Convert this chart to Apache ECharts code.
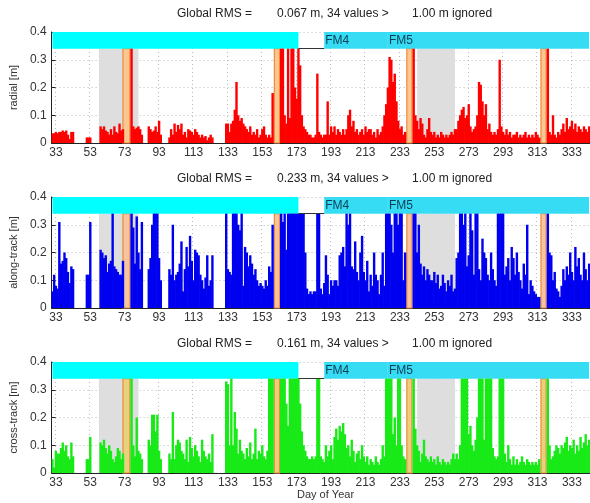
<!DOCTYPE html>
<html>
<head>
<meta charset="utf-8">
<script src="https://cdn.jsdelivr.net/npm/echarts@6/dist/echarts.min.js"></script>
<style>
  html, body { margin: 0; padding: 0; background: #fff; }
  #chart { width: 590px; height: 503px; }
</style>
</head>
<body>
<div id="chart"></div>
<script>
// day of year categories 31..343
const days = [];
for (let d = 31; d <= 343; d++) days.push(String(d));
const xTicks = ['33', '53', '73', '93', '113', '133', '153', '173', '193', '213', '233', '253', '273', '293', '313', '333'];
const yTicks = [0, 0.1, 0.2, 0.3, 0.4];

// values in m, one per day starting at day 31 (null = no data)
const radial = [
  .035,.035,.04,.035,.04,.04,.045,.04,.045,.03,
  .015,.04,.04,null,null,null,null,null,null,null,
  .02,.02,.02,null,null,null,null,null,.06,.05,
  .06,.045,.04,.03,.05,.03,.06,.04,.035,.07,
  .045,.05,null,null,null,null,.34,.06,.05,.055,
  .06,.05,.03,null,null,null,.06,.05,.04,.045,
  .06,.04,.08,.03,null,null,null,null,.02,.05,
  .03,.07,.04,.065,.05,.07,.03,.04,.02,.05,
  .045,.04,.03,.05,.04,.03,.02,.03,.02,.025,
  .01,.02,.03,.02,null,null,null,null,null,null,
  null,.07,.07,.04,.07,.08,.12,.22,.1,.08,
  .09,.07,.06,.05,.04,.06,.03,.04,.03,.05,
  .02,.03,.05,.06,.03,.02,.03,.02,.18,null,
  null,null,null,.34,.34,.1,.07,.34,.09,.34,
  .34,.2,.16,.34,.28,.1,.06,.05,.04,.03,
  .03,.02,.02,.03,.25,.04,.03,.02,.03,.03,
  .15,.03,.06,.04,.06,.03,.05,.04,.03,.05,
  .03,.05,.1,.12,.06,.08,.04,.05,.03,.04,
  .05,.03,.06,.04,.05,.05,.03,.04,.02,.05,
  .03,.04,.06,.1,.14,.2,.31,.3,.22,.25,
  .15,.08,.05,.06,.03,.04,null,null,null,null,
  .34,.1,.08,.05,.09,.07,.03,.02,.05,.09,
  .04,.03,.04,.02,.03,.02,.04,.03,.02,.03,
  .02,.03,.04,.03,.05,.05,.08,.1,.12,.13,
  .09,.1,.14,.06,.04,.05,.06,.1,.22,.21,
  .15,.1,.14,.05,.07,.04,.03,.04,.03,.05,
  .3,.06,.04,.03,.05,.03,.04,.02,.03,.03,
  .04,.02,.03,.02,.03,.04,.02,.03,.02,.03,
  .02,.04,.03,.02,null,null,null,null,.34,.04,
  .03,.1,.03,.02,.04,.03,.05,.07,.04,.09,
  .05,.06,.08,.05,.07,.04,.06,.05,.04,.06,
  .05,.04,.06
];

const alongTrack = [
  .06,.12,.08,.07,.31,.16,.17,.2,.18,.13,
  .09,.15,.14,null,null,null,null,null,null,null,
  .12,.12,.31,null,null,null,null,null,.21,.2,
  .18,.19,.13,.16,.17,.34,.15,.14,.13,.12,
  .12,.17,null,null,null,null,.34,.29,.16,.33,
  .2,.14,.31,null,null,null,.14,.18,.3,.34,
  .34,.34,.18,.1,null,null,null,null,.14,.12,
  .3,.1,.12,.13,.16,.24,.06,.14,.22,.15,
  .26,.17,.1,.21,.2,.19,.12,.1,.07,.11,
  .19,.08,.1,.19,null,null,null,null,null,null,
  null,.34,.14,.13,.12,.34,.34,.34,.3,.28,
  .34,.08,.22,.2,.15,.19,.16,.12,.14,.1,
  .08,.09,.08,.07,.1,.08,.15,.13,.3,null,
  null,null,null,.34,.31,.34,.21,.34,.34,.34,
  .34,.34,.34,.34,.34,.34,.34,.2,.07,.05,
  .06,.05,.06,.06,.34,.34,.07,.05,.09,.19,
  .12,.05,.1,.08,.1,.1,.08,.19,.2,.22,
  .15,.34,.3,.34,.15,.14,.24,.13,.1,.2,
  .26,.13,.1,.17,.06,.12,.08,.2,.12,.1,
  .05,.12,.2,.08,.34,.34,.34,.3,.2,.34,
  .34,.3,.34,.34,.1,.2,null,null,null,null,
  .34,.34,.2,.3,.16,.12,.15,.1,.14,.12,
  .1,.1,.13,.09,.12,.07,.08,.12,.09,.06,
  .1,.08,.12,.06,.07,.18,.2,.34,.34,.3,
  .34,.15,.19,.34,.28,.12,.34,.34,.14,.1,
  .25,.2,.18,.12,.1,.2,.14,.1,.08,.34,
  .34,.34,.34,.12,.15,.18,.1,.22,.18,.12,
  .2,.13,.1,.07,.16,.12,.3,.05,.1,.08,
  .06,.05,.04,.04,null,null,null,null,.34,.2,
  .19,.1,.13,.07,.06,.04,.08,.14,.1,.15,
  .12,.2,.13,.1,.22,.15,.18,.12,.1,.2,
  .14,.1,.16
];

const crossTrack = [
  .05,.02,.08,.07,.07,.09,.11,.08,.1,.06,
  .05,.11,.06,null,null,null,null,null,null,null,
  .05,.05,.13,null,null,null,null,null,.11,.1,
  .12,.09,.07,.1,.08,.05,.04,.06,.09,.08,
  .05,.07,null,null,null,null,.34,.1,.06,.2,
  .08,.07,.05,null,null,null,.12,.1,.21,.21,
  .15,.21,.08,.05,null,null,null,null,.07,.05,
  .22,.05,.1,.12,.11,.08,.07,.05,.12,.04,
  .13,.09,.06,.1,.08,.06,.04,.12,.08,.06,
  .05,.07,.04,.14,null,null,null,null,null,null,
  null,.33,.32,.1,.34,.1,.22,.16,.07,.12,
  .08,.07,.05,.09,.06,.11,.05,.07,.16,.05,
  .08,.07,.1,.06,.05,.08,.34,.34,.34,null,
  null,null,null,.34,.34,.34,.25,.17,.34,.34,
  .34,.34,.34,.34,.25,.15,.1,.08,.06,.05,
  .05,.06,.05,.06,.34,.34,.06,.05,.04,.1,
  .06,.08,.1,.05,.13,.16,.12,.17,.15,.18,
  .14,.09,.1,.06,.12,.08,.04,.07,.08,.05,
  .1,.06,.04,.06,.03,.05,.04,.03,.06,.04,
  .03,.05,.1,.06,.34,.34,.34,.34,.14,.2,
  .1,.34,.34,.1,.06,.05,null,null,null,null,
  .34,.16,.1,.08,.04,.07,.12,.06,.05,.04,
  .06,.04,.05,.03,.06,.04,.03,.05,.04,.03,
  .04,.03,.05,.07,.05,.07,.05,.1,.34,.34,
  .34,.34,.14,.17,.1,.08,.12,.2,.34,.34,
  .34,.12,.34,.34,.34,.34,.09,.06,.05,.06,
  .34,.34,.34,.07,.04,.1,.05,.03,.06,.03,
  .05,.03,.04,.06,.04,.03,.05,.04,.03,.04,
  .03,.04,.03,.05,null,null,null,null,.34,.1,
  .05,.06,.08,.1,.09,.07,.1,.09,.11,.13,
  .08,.1,.09,.12,.07,.1,.08,.13,.09,.11,
  .14,.1,.12
];

const rmsTexts = ['0.067 m, 34 values >', '0.233 m, 34 values >', '0.161 m, 34 values >'];
const panelNames = ['radial [m]', 'along-track [m]', 'cross-track [m]'];
const barColors = ['#ff0000', '#0000f0', '#18ea18'];
const bandFill = ['#f9c890', '#f6c4a0', '#e6d27a'];
const eclipses = [['58', '81'], ['243', '265']];
const manoeuvres = [['72', '76'], ['160', '163'], ['237', '240'], ['315', '318']];

const font = 'Liberation Sans, Arial, sans-serif';
const tops = [32, 197, 362];
const isTick = (i, v) => xTicks.indexOf(v) >= 0;

const grid = [], xAxis = [], yAxis = [], series = [], graphic = [];
const panels = [radial, alongTrack, crossTrack];

panels.forEach((vals, k) => {
  grid.push({ left: 48, top: tops[k], width: 542, height: 111 });
  xAxis.push({
    type: 'category', gridIndex: k, data: days,
    boundaryGap: true,
    axisLine: { lineStyle: { color: '#222', width: 1 } },
    axisTick: { inside: true, length: 3, alignWithLabel: true, interval: isTick, lineStyle: { color: '#222' } },
    axisLabel: { interval: isTick, color: '#333', fontSize: 12, fontFamily: font, margin: 4 },
    splitLine: { show: true, interval: isTick, lineStyle: { color: '#b8b8b8', type: [1, 3] } }
  });
  yAxis.push({
    type: 'value', gridIndex: k, min: 0, max: 0.4, interval: 0.1,
    name: panelNames[k], nameLocation: 'middle', nameGap: 29,
    nameTextStyle: { color: '#333', fontSize: 11, fontFamily: font },
    axisLine: { show: true, lineStyle: { color: '#222', width: 1 } },
    axisTick: { show: true, inside: true, length: 4, lineStyle: { color: '#222' } },
    axisLabel: { color: '#333', fontSize: 12, fontFamily: font, margin: 5,
      formatter: v => (v === 0 ? '0' : v.toFixed(1)) },
    splitLine: { show: true, lineStyle: { color: '#b8b8b8', type: [1, 3] } }
  });
  // shaded periods behind bars
  series.push({
    type: 'line', xAxisIndex: k, yAxisIndex: k, data: [], z: 1, silent: true,
    markArea: {
      silent: true,
      itemStyle: { color: '#dedede' },
      data: eclipses.map(e => [{ xAxis: e[0], yAxis: 0 }, { xAxis: e[1], yAxis: 0.34 }])
    }
  });
  series.push({
    type: 'bar', xAxisIndex: k, yAxisIndex: k, data: vals, z: 2,
    barWidth: 2.4, barGap: '-100%',
    itemStyle: { color: barColors[k] }, silent: true
  });
  // manoeuvre bands and satellite bar on top
  series.push({
    type: 'line', xAxisIndex: k, yAxisIndex: k, data: [], z: 3, silent: true,
    markArea: {
      silent: true,
      data: manoeuvres.map(m => [
        { xAxis: m[0], yAxis: 0, itemStyle: { color: bandFill[k], borderColor: '#f08a3c', borderWidth: 1.2 } },
        { xAxis: m[1], yAxis: 0.34 }
      ]).concat([
        [{ xAxis: '31', yAxis: 0.34, itemStyle: { color: '#00ffff' } }, { xAxis: '174', yAxis: 0.4 }],
        [{ xAxis: '189', yAxis: 0.34, itemStyle: { color: '#36dcf4' },
           label: { show: true, position: 'insideLeft', formatter: 'FM4', color: '#0b3f55', fontSize: 12, fontFamily: font, offset: [-4, 0] } },
         { xAxis: '226', yAxis: 0.4 }],
        [{ xAxis: '226', yAxis: 0.34, itemStyle: { color: '#36dcf4' },
           label: { show: true, position: 'insideLeft', formatter: 'FM5', color: '#0b3f55', fontSize: 12, fontFamily: font, offset: [-4, 0] } },
         { xAxis: '343', yAxis: 0.4 }]
      ])
    },
    markLine: {
      silent: true, symbol: 'none', label: { show: false },
      lineStyle: { color: '#333', width: 1, type: 'solid' },
      data: [[{ xAxis: '174', yAxis: 0.34 }, { xAxis: '189', yAxis: 0.34 }]]
    }
  });
  const ty = tops[k] - 17;
  graphic.push(
    { type: 'text', left: 177, top: ty - 7, style: { text: 'Global RMS =', fill: '#222', font: '12px ' + font } },
    { type: 'text', left: 277, top: ty - 7, style: { text: rmsTexts[k], fill: '#222', font: '12px ' + font } },
    { type: 'text', left: 412, top: ty - 7, style: { text: '1.00 m ignored', fill: '#222', font: '12px ' + font } }
  );
});

graphic.push({ type: 'text', left: 297, top: 489, style: { text: 'Day of Year', fill: '#333', font: '11px ' + font } });

const chart = echarts.init(document.getElementById('chart'));
chart.setOption({
  animation: false,
  grid, xAxis, yAxis, series, graphic
});
</script>
</body>
</html>
